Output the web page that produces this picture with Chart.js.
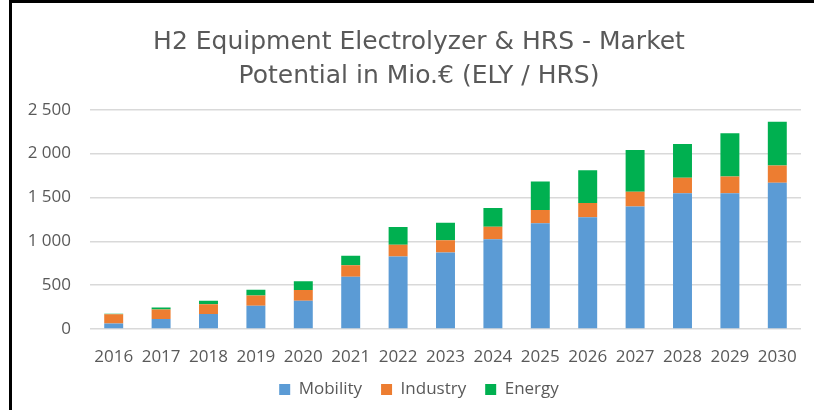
<!DOCTYPE html>
<html lang="en">
<head>
    <meta charset="UTF-8">
    <title>H2 Equipment Market Potential</title>
    <style>
        body {
            margin: 0;
            background-color: #ffffff;
        }
        .wrap {
            position: relative;
            width: 814px;
            height: 410px;
            overflow: hidden;
        }
        .frame {
            position: absolute;
            left: 9px;
            top: 0;
            width: 820px;
            height: 420px;
            border-left: 3px solid #000;
            border-top: 3px solid #000;
            box-sizing: border-box;
        }
    </style>
    <script src="https://cdn.jsdelivr.net/npm/chart.js"></script>
</head>
<body>

<div class="wrap">
    <canvas id="marketChart" width="814" height="410"></canvas>
    <div class="frame"></div>
</div>

<script>
    const years = ['2016', '2017', '2018', '2019', '2020', '2021', '2022', '2023', '2024', '2025', '2026', '2027', '2028', '2029', '2030'];
    const mobility = [64, 115, 172, 264, 322, 597, 827, 873, 1023, 1206, 1275, 1397, 1547, 1547, 1666];
    const industry = [104, 107, 111, 119, 122, 130, 133, 138, 144, 150, 161, 169, 177, 191, 199];
    const energy = [6, 23, 39, 65, 99, 107, 204, 199, 212, 325, 375, 475, 386, 494, 497];
    const yTicks = [0, 500, 1000, 1500, 2000, 2500];

    const textColor = '#595959';
    const fontName = "'Open Sans', sans-serif";

    const ctx = document.getElementById('marketChart').getContext('2d');
    const marketChart = new Chart(ctx, {
        type: 'bar',
        data: {
            labels: years,
            datasets: [
                { label: 'Mobility', data: mobility, backgroundColor: '#5b9bd5' },
                { label: 'Industry', data: industry, backgroundColor: '#ed7d31' },
                { label: 'Energy', data: energy, backgroundColor: '#00b050' }
            ]
        },
        options: {
            responsive: false,
            animation: false,
            barPercentage: 0.4,
            categoryPercentage: 1,
            layout: {
                padding: { left: 24, right: 0, top: 0, bottom: 2 }
            },
            plugins: {
                title: {
                    display: true,
                    text: ['H2 Equipment Electrolyzer & HRS - Market', 'Potential in Mio.€ (ELY / HRS)'],
                    color: textColor,
                    font: { family: "'DejaVu Sans', sans-serif", size: 25, weight: 'normal', lineHeight: 1.334 },
                    padding: { top: 26, bottom: 17 }
                },
                legend: {
                    position: 'bottom',
                    labels: {
                        color: textColor,
                        font: { family: fontName, size: 17 },
                        boxWidth: 11,
                        boxHeight: 11,
                        padding: 19
                    }
                },
                tooltip: { enabled: false }
            },
            scales: {
                x: {
                    stacked: true,
                    grid: { display: false },
                    border: { display: false },
                    ticks: {
                        color: textColor,
                        font: { family: fontName, size: 17 },
                        padding: 10,
                        maxRotation: 0,
                        autoSkip: false
                    },
                    afterFit: (scale) => { scale.height = 33; }
                },
                y: {
                    stacked: true,
                    min: 0,
                    max: 2500,
                    afterBuildTicks: (scale) => {
                        scale.ticks = yTicks.map(v => ({ value: v }));
                    },
                    grid: {
                        color: '#d9d9d9',
                        lineWidth: 1.5,
                        drawTicks: false
                    },
                    border: { display: false },
                    ticks: {
                        color: textColor,
                        font: { family: fontName, size: 17 },
                        padding: 19,
                        callback: (v) => String(v).replace(/\B(?=(\d{3})+(?!\d))/g, ' ')
                    },
                    afterFit: (scale) => { scale.width = 66; }
                },
                yRight: {
                    position: 'right',
                    display: true,
                    grid: { display: false },
                    border: { display: false },
                    ticks: { display: false },
                    afterFit: (scale) => { scale.width = 13; }
                }
            }
        }
    });
</script>

</body>
</html>
